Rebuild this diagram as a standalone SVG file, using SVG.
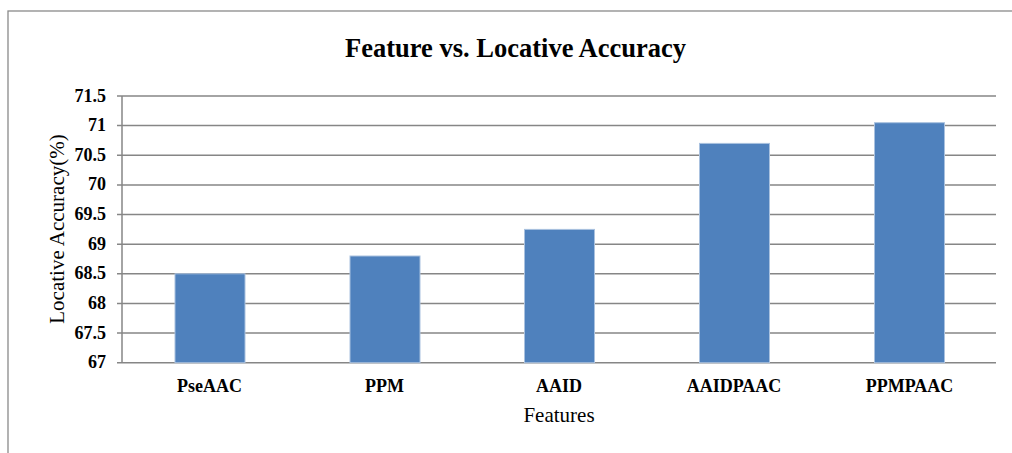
<svg xmlns="http://www.w3.org/2000/svg" width="1012" height="453" viewBox="0 0 1012 453">
<style>
.frame{fill:#fff;stroke:#8a8a8a;stroke-width:1.3}
.grid{stroke:#868686;stroke-width:1.5;fill:none}
.bar{fill:#4f81bd;stroke:#a9c1df;stroke-width:1}
.tick{font-family:"Liberation Serif","Times New Roman",serif;font-weight:bold;font-size:18px;fill:#000;text-anchor:end}
.cat{font-family:"Liberation Serif","Times New Roman",serif;font-weight:bold;font-size:18px;fill:#000;text-anchor:middle}
.title{font-family:"Liberation Serif","Times New Roman",serif;font-weight:bold;font-size:26.5px;fill:#000;text-anchor:middle}
.axt{font-family:"Liberation Serif","Times New Roman",serif;font-size:21px;fill:#000;text-anchor:middle}
</style>
<rect class="frame" x="8" y="11" width="1010" height="450"/>
<text class="title" x="515.5" y="57">Feature vs. Locative Accuracy</text>
<g id="gridlines">
<line class="grid" x1="117" y1="96" x2="996" y2="96"/>
<line class="grid" x1="117" y1="125.6" x2="996" y2="125.6"/>
<line class="grid" x1="117" y1="155.3" x2="996" y2="155.3"/>
<line class="grid" x1="117" y1="184.9" x2="996" y2="184.9"/>
<line class="grid" x1="117" y1="214.5" x2="996" y2="214.5"/>
<line class="grid" x1="117" y1="244.2" x2="996" y2="244.2"/>
<line class="grid" x1="117" y1="273.8" x2="996" y2="273.8"/>
<line class="grid" x1="117" y1="303.4" x2="996" y2="303.4"/>
<line class="grid" x1="117" y1="333.1" x2="996" y2="333.1"/>
<line class="grid" x1="117" y1="362.7" x2="996" y2="362.7"/>
<line class="grid" x1="122" y1="96" x2="122" y2="362.7"/>
</g>
<g id="yticks">
<text class="tick" x="106" y="101.5">71.5</text>
<text class="tick" x="106" y="131.1">71</text>
<text class="tick" x="106" y="160.8">70.5</text>
<text class="tick" x="106" y="190.4">70</text>
<text class="tick" x="106" y="220">69.5</text>
<text class="tick" x="106" y="249.7">69</text>
<text class="tick" x="106" y="279.3">68.5</text>
<text class="tick" x="106" y="308.9">68</text>
<text class="tick" x="106" y="338.6">67.5</text>
<text class="tick" x="106" y="368.2">67</text>
</g>
<g id="bar-pseaac"><rect class="bar" x="175" y="273.8" width="70" height="88.9"/><text class="cat" x="209.5" y="391.5">PseAAC</text></g>
<g id="bar-ppm"><rect class="bar" x="350" y="256" width="70" height="106.7"/><text class="cat" x="384.5" y="391.5">PPM</text></g>
<g id="bar-aaid"><rect class="bar" x="524.5" y="229.4" width="70" height="133.3"/><text class="cat" x="559" y="391.5">AAID</text></g>
<g id="bar-aaidpaac"><rect class="bar" x="699.5" y="143.4" width="70" height="219.3"/><text class="cat" x="734" y="391.5">AAIDPAAC</text></g>
<g id="bar-ppmpaac"><rect class="bar" x="874.5" y="122.7" width="70" height="240"/><text class="cat" x="909.5" y="391.5">PPMPAAC</text></g>
<text class="axt" x="559" y="421.5">Features</text>
<text class="axt" transform="translate(63.5,229) rotate(-90)" x="0" y="0">Locative Accuracy(%)</text>
</svg>
